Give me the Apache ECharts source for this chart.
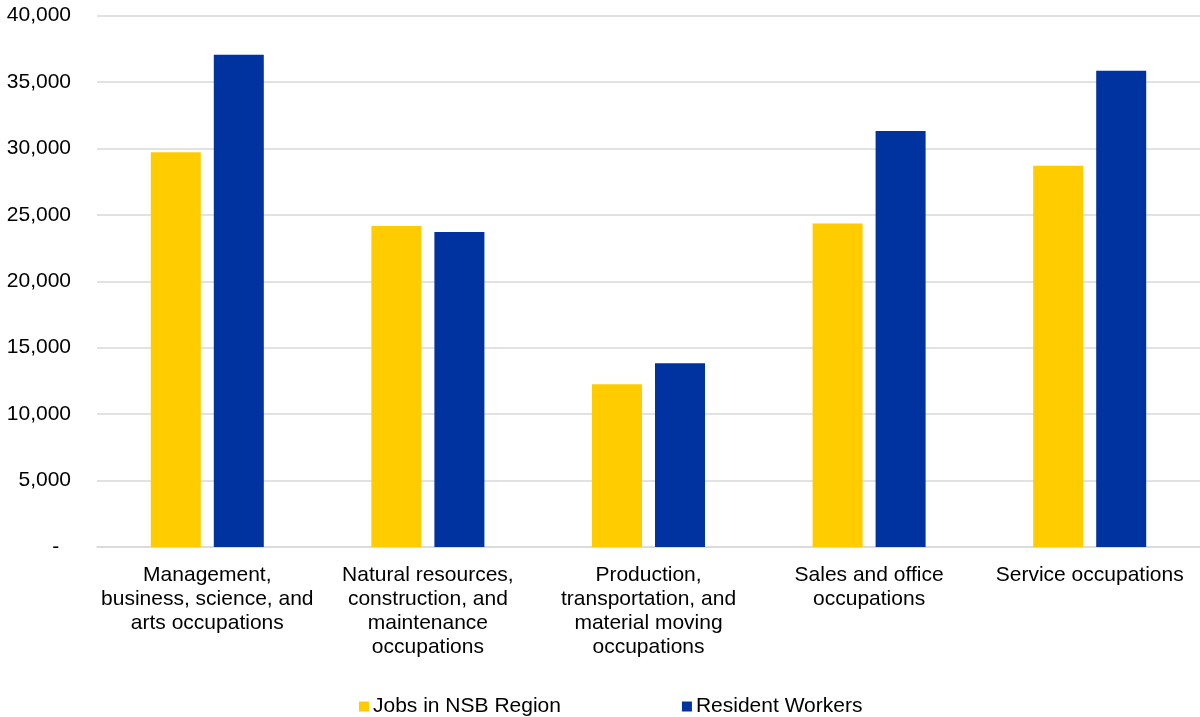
<!DOCTYPE html>
<html>
<head>
<meta charset="utf-8">
<script src="https://cdn.jsdelivr.net/npm/echarts@6/dist/echarts.min.js"></script>
<style>
  html, body { margin: 0; padding: 0; background: #fff; }
  #main { width: 1200px; height: 717px; }
</style>
</head>
<body>
<div id="main"></div>
<script>
var categories = [
  'Management,\nbusiness, science, and\narts occupations',
  'Natural resources,\nconstruction, and\nmaintenance\noccupations',
  'Production,\ntransportation, and\nmaterial moving\noccupations',
  'Sales and office\noccupations',
  'Service occupations'
]
var jobsInRegion = [29700, 24150, 12250, 24350, 28700]
var residentWorkers = [37050, 23700, 13820, 31300, 35850]

var chart = echarts.init(document.getElementById('main'))
var font = 'Liberation Sans, Arial, sans-serif'

var option = {
  animation: false,
  grid: {
    left: 97,
    right: 0,
    top: 15.5,
    bottom: 170,
    containLabel: false
  },
  legend: {
    top: 691,
    left: 354,
    itemWidth: 10,
    itemHeight: 10,
    itemGap: 121,
    icon: 'rect',
    textStyle: { fontFamily: font, fontSize: 21, color: '#000', padding: [0, 0, 0, -1] },
    data: ['Jobs in NSB Region', 'Resident Workers']
  },
  xAxis: {
    type: 'category',
    data: categories,
    axisTick: { show: false },
    axisLine: { lineStyle: { color: '#d9d9d9', width: 1.5 } },
    axisLabel: {
      interval: 0,
      margin: 16,
      fontFamily: font,
      fontSize: 21,
      lineHeight: 24,
      color: '#000'
    }
  },
  yAxis: {
    type: 'value',
    min: 0,
    max: 40000,
    interval: 5000,
    axisLine: { show: false },
    axisTick: { show: false },
    splitLine: { lineStyle: { color: '#d9d9d9', width: 1.5 } },
    axisLabel: {
      margin: 26,
      fontFamily: font,
      fontSize: 21,
      color: '#000',
      formatter: function (v) {
        return v === 0 ? '-  ' : v.toLocaleString('en-US')
      }
    }
  },
  series: [
    {
      name: 'Jobs in NSB Region',
      type: 'bar',
      data: jobsInRegion,
      barWidth: 50,
      barGap: '26%',
      itemStyle: { color: '#ffcc00' }
    },
    {
      name: 'Resident Workers',
      type: 'bar',
      data: residentWorkers,
      barWidth: 50,
      itemStyle: { color: '#0033a0' }
    }
  ]
}

chart.setOption(option)
</script>
</body>
</html>
